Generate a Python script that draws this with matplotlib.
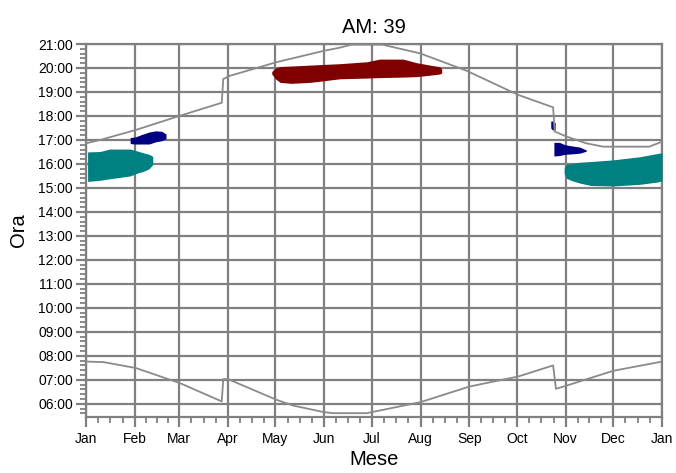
import matplotlib
matplotlib.use("Agg")
import matplotlib.pyplot as plt
from matplotlib.ticker import FixedLocator, FuncFormatter, MultipleLocator

plt.rcParams['font.family'] = ['Liberation Sans', 'DejaVu Sans']

# month starts (day of year) and labels
month_days = [0, 31, 59, 90, 120, 151, 181, 212, 243, 273, 304, 334, 365]
month_labels = ["Jan", "Feb", "Mar", "Apr", "May", "Jun", "Jul",
                "Aug", "Sep", "Oct", "Nov", "Dec", "Jan"]

# sunset line (hours)
sunset_days = [0, 9, 31.7, 59.6, 86, 87, 91, 120.6, 151, 161, 168, 188,
               211.7, 241, 274, 296, 297, 304.6, 317, 327.8, 357, 365]
sunset_h = [16.86, 17.0, 17.42, 18.01, 18.55, 19.54, 19.67, 20.24, 20.72,
            20.85, 20.97, 20.97, 20.61, 19.89, 18.875, 18.36, 17.35, 17.14,
            16.86, 16.72, 16.72, 16.93]

# sunrise line (hours)
sunrise_days = [0, 11, 31.7, 59.6, 86, 87, 90, 120.6, 131, 151, 156.5, 178,
                212, 243, 274, 296, 297.8, 304.6, 334, 365]
sunrise_h = [7.76, 7.74, 7.49, 6.86, 6.10, 7.03, 7.03, 6.17, 5.93, 5.65,
             5.61, 5.61, 6.07, 6.72, 7.14, 7.60, 6.625, 6.76, 7.375, 7.76]

# glare areas: day, top hour, bottom hour
teal1_days = [1, 9, 15, 28, 33, 36, 40, 42, 42.3]
teal1_top = [16.5, 16.52, 16.62, 16.62, 16.53, 16.47, 16.4, 16.33, 16.3]
teal1_bot = [15.27, 15.32, 15.38, 15.5, 15.63, 15.68, 15.8, 15.95, 16.0]

navy1_days = [28, 31, 35, 40, 44, 48, 50.7]
navy1_top = [17.1, 17.12, 17.22, 17.33, 17.38, 17.36, 17.25]
navy1_bot = [16.85, 16.83, 16.83, 16.83, 16.92, 16.97, 17.05]

red_days = [117.7, 120, 123, 130, 142, 161, 178, 186, 201, 209.5, 218,
            224.3, 225.4]
red_top = [19.85, 20.0, 20.06, 20.08, 20.12, 20.18, 20.26, 20.37, 20.37,
           20.22, 20.12, 20.05, 19.95]
red_bot = [19.75, 19.55, 19.4, 19.36, 19.4, 19.55, 19.58, 19.6, 19.62,
           19.64, 19.7, 19.75, 19.8]

navy2_days = [294.5, 295.5, 297.3]
navy2_top = [17.79, 17.79, 17.72]
navy2_bot = [17.5, 17.42, 17.42]

navy3_days = [296.5, 300, 303.5, 308, 313, 317]
navy3_top = [16.9, 16.9, 16.8, 16.75, 16.7, 16.58]
navy3_bot = [16.33, 16.35, 16.4, 16.42, 16.45, 16.53]

teal2_days = [303, 304.5, 308, 313, 320, 334, 351, 362.5, 365]
teal2_top = [15.85, 15.98, 16.02, 16.07, 16.1, 16.17, 16.3, 16.44, 16.47]
teal2_bot = [15.6, 15.4, 15.3, 15.2, 15.1, 15.08, 15.15, 15.25, 15.3]

gray = "#808080"

fig = plt.figure(figsize=(6.76, 4.73), dpi=100)
ax = fig.add_axes([86 / 676, 1 - 417 / 473, 576 / 676, 373 / 473])

ax.fill_between(teal1_days, teal1_bot, teal1_top, color="#008080", lw=0, zorder=3)
ax.fill_between(teal2_days, teal2_bot, teal2_top, color="#008080", lw=0, zorder=3)
ax.fill_between(navy1_days, navy1_bot, navy1_top, color="#000080", lw=0, zorder=3)
ax.fill_between(navy2_days, navy2_bot, navy2_top, color="#000080", lw=0, zorder=3)
ax.fill_between(navy3_days, navy3_bot, navy3_top, color="#000080", lw=0, zorder=3)
ax.fill_between(red_days, red_bot, red_top, color="#800000", lw=0, zorder=3)

ax.plot(sunset_days, sunset_h, color="#8a8a8a", lw=1.3, zorder=4)
ax.plot(sunrise_days, sunrise_h, color="#8a8a8a", lw=1.3, zorder=4)

ax.set_xlim(0, 365)
ax.set_ylim(5.45, 21)

minor_x = []
for i in range(12):
    step = (month_days[i + 1] - month_days[i]) / 4
    minor_x += [month_days[i] + k * step for k in (1, 2, 3)]

ax.xaxis.set_major_locator(FixedLocator(month_days))
ax.xaxis.set_minor_locator(FixedLocator(minor_x))
ax.set_xticklabels(month_labels)
ax.yaxis.set_major_locator(MultipleLocator(1))
ax.yaxis.set_minor_locator(MultipleLocator(0.2))
ax.yaxis.set_major_formatter(FuncFormatter(lambda v, p: "%02d:00" % round(v)))

ax.grid(True, which="major", color=gray, lw=1.6, zorder=1)
ax.set_axisbelow(True)
for s in ax.spines.values():
    s.set_color(gray)
    s.set_linewidth(1.6)

ax.tick_params(which="major", length=7.5, width=1.6, color=gray,
               labelsize=10, pad=2)
ax.tick_params(which="minor", length=4.3, width=1.3, color=gray)
ax.tick_params(axis="x", which="major", pad=3.5)

ax.set_title("AM: 39", fontsize=14.5, pad=8)
ax.set_xlabel("Mese", fontsize=14.5, labelpad=3)
ax.set_ylabel("Ora", fontsize=14.5, labelpad=7)

fig.savefig("out.png", dpi=100)
